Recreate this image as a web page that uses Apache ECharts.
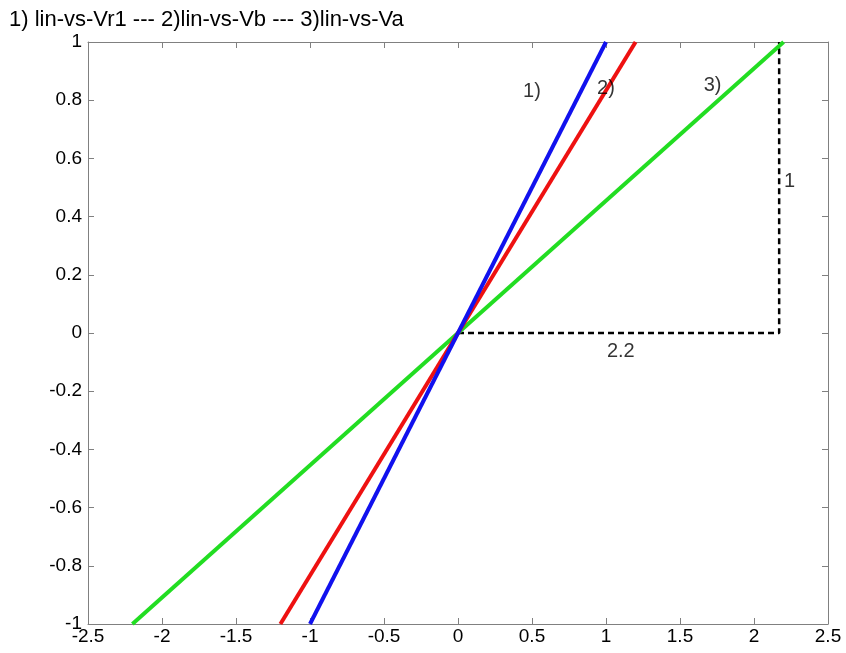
<!DOCTYPE html>
<html lang="en">
<head>
    <meta charset="UTF-8">
    <script src="https://cdn.jsdelivr.net/npm/echarts@6/dist/echarts.min.js"></script>
</head>
<body style="margin:0;background:#fff">
    <div id="main" style="height: 653px;width: 846px;"></div>
    <script>
        var titleText = '1) lin-vs-Vr1 --- 2)lin-vs-Vb --- 3)lin-vs-Va'
        var lineVr1 = [[-1, -1], [1, 1]]
        var lineVb = [[-1.2, -1], [1.2, 1]]
        var lineVa = [[-2.2, -1], [2.2, 1]]
        var guide = [[0, 0], [2.17, 0], [2.17, 1]]
        var notes = [
            {value: [0.5, 0.83], text: '1)'},
            {value: [1.0, 0.84], text: '2)'},
            {value: [1.72, 0.85], text: '3)'},
            {value: [2.24, 0.52], text: '1'},
            {value: [1.1, -0.065], text: '2.2'}
        ]

        var font = 'Liberation Sans, Arial, sans-serif'
        var axisGray = '#808080'

        function xAxis(pos, labels) {
            return {
                type: 'value', position: pos, min: -2.5, max: 2.5, interval: 0.5,
                axisLine: {show: true, onZero: false, lineStyle: {color: axisGray, width: 1}},
                axisTick: {show: true, inside: true, length: 6, lineStyle: {color: axisGray}},
                axisLabel: {show: labels, color: '#000', fontSize: 19, fontFamily: font, margin: 3},
                splitLine: {show: false}
            }
        }
        function yAxis(pos, labels) {
            return {
                type: 'value', position: pos, min: -1, max: 1, interval: 0.2,
                axisLine: {show: true, onZero: false, lineStyle: {color: axisGray, width: 1}},
                axisTick: {show: true, inside: true, length: 6, lineStyle: {color: axisGray}},
                axisLabel: {show: labels, color: '#000', fontSize: 19, fontFamily: font, margin: 6,
                    formatter: function (v) { return String(Math.round(v * 10) / 10) }},
                splitLine: {show: false}
            }
        }

        function seg(data, color, width, type) {
            return {
                type: 'line', data: data, symbol: 'none', animation: false,
                lineStyle: {color: color, width: width, type: type || 'solid'}, z: 2
            }
        }

        var myCharts = echarts.init(document.getElementById('main'))
        var option = {
            animation: false,
            title: {
                text: titleText, left: 4, top: 4,
                textStyle: {fontSize: 22, fontWeight: 'normal', color: '#000', fontFamily: font}
            },
            grid: {left: 88, right: 18, top: 42, bottom: 29, containLabel: false},
            xAxis: [xAxis('bottom', true), xAxis('top', false)],
            yAxis: [yAxis('left', true), yAxis('right', false)],
            series: [
                seg(guide, '#000', 2.5, [6, 4]),
                seg(lineVa, '#22dd22', 4),
                seg(lineVb, '#ee1111', 4),
                seg(lineVr1, '#1111ee', 4),
                {
                    type: 'scatter', symbolSize: 0, z: 5, silent: true,
                    itemStyle: {color: '#000'},
                    data: notes.map(function (n) { return {value: n.value, name: n.text} }),
                    label: {
                        show: true, position: 'inside', color: '#000', fontSize: 20, fontFamily: font,
                        textBorderWidth: 0,
                        formatter: function (p) { return p.name }
                    }
                }
            ]
        }
        myCharts.setOption(option)
    </script>
</body>
</html>
